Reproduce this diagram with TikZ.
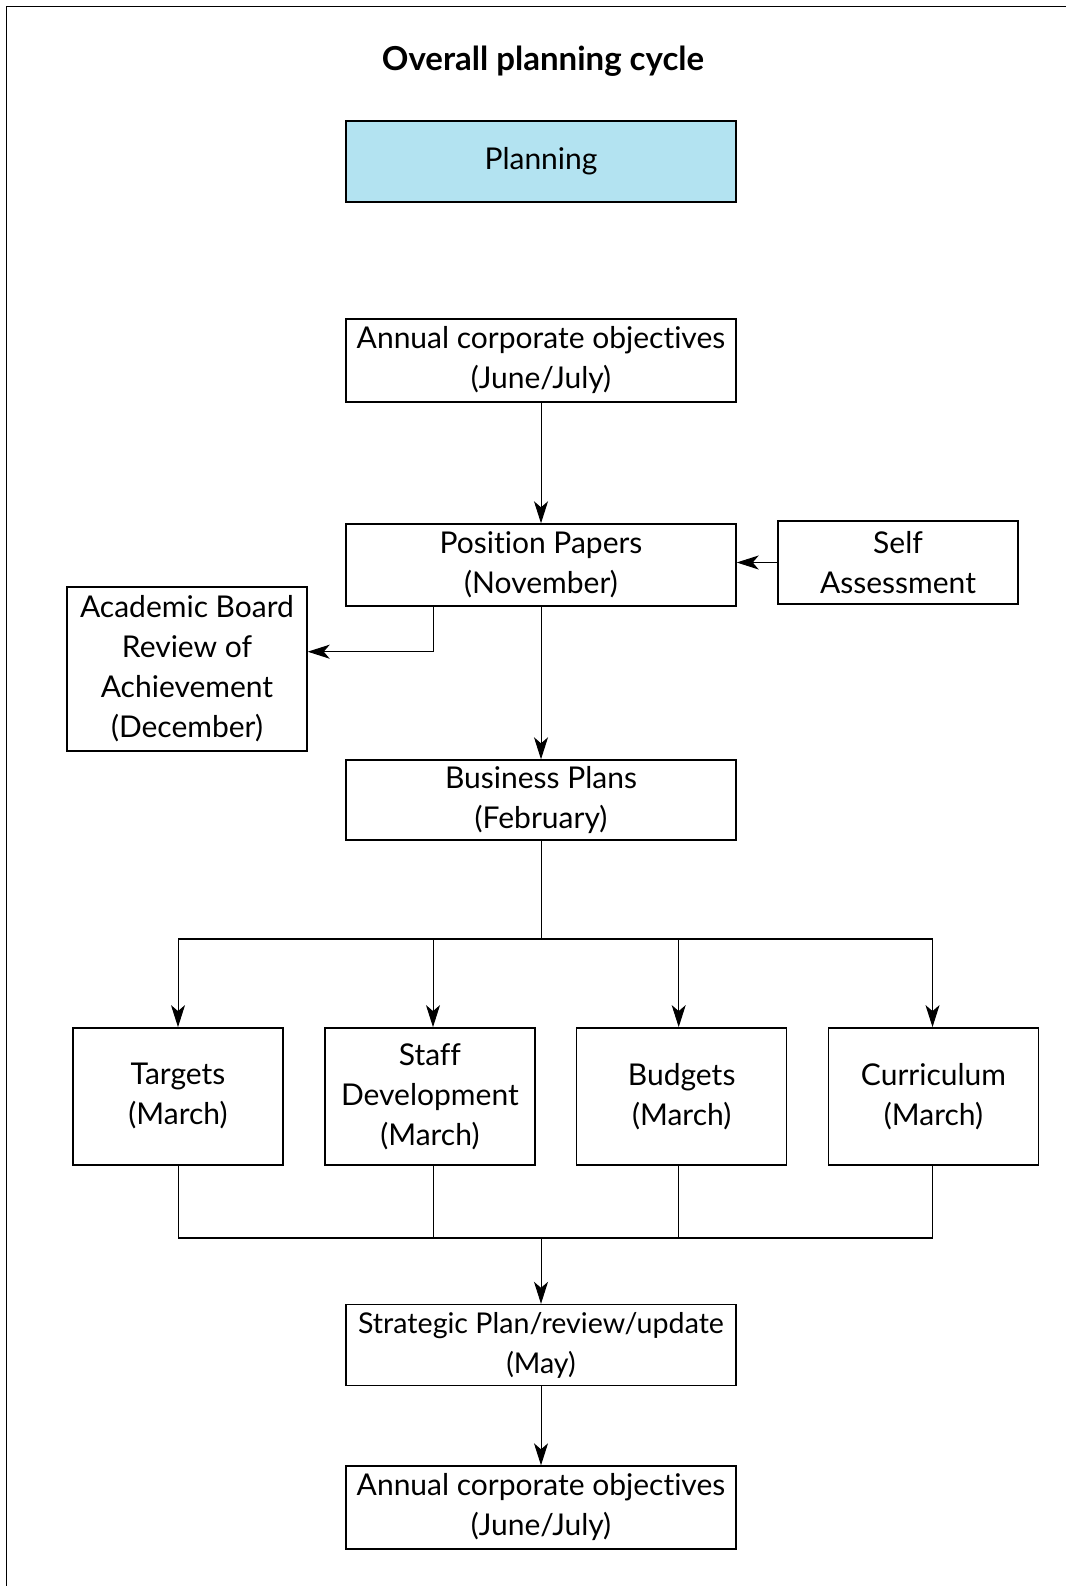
\documentclass[tikz,border=0pt]{standalone}
\usepackage{fontspec}
\setmainfont{Lato}[Ligatures=NoCommon]
\usetikzlibrary{arrows.meta}
\definecolor{planblue}{RGB}{179,227,241}
\begin{document}
\begin{tikzpicture}[x=1pt,y=-1pt,
  box/.style={draw=black,line width=1.4pt,fill=white,rectangle,inner sep=0pt,
              align=center,font=\fontsize{30}{40}\selectfont},
  wide/.style={box,minimum width=390pt},
  side/.style={box,minimum width=240pt},
  quad/.style={box,minimum width=210pt,minimum height=137pt},
  arr/.style={line width=1pt,-{Stealth[length=22pt,width=14pt,inset=6pt]}},
  link/.style={line width=1pt},
  bar/.style={line width=2pt}]
  % page area and frame (left and top sides)
  \useasboundingbox (0,0) rectangle (1066,1586);
  \draw[line width=1.8pt] (6.5,1586) -- (6.5,6.5) -- (1066,6.5);

  % title
  \node[font=\fontsize{33}{38}\selectfont\bfseries] (title) at (543,61) {Overall planning cycle};

  % main column
  \node[wide,fill=planblue,minimum height=81pt] (plan) at (541,161.5) {Planning};
  \node[wide,minimum height=83pt] (ann1) at (541,360.5) {Annual corporate objectives\\(June/July)};
  \node[wide,minimum height=82pt] (pos)  at (541,565) {Position Papers\\(November)};
  \node[side,minimum height=83pt] (self) at (898,562.5) {Self\\Assessment};
  \node[side,minimum height=164pt] (acad) at (187,669) {Academic Board\\Review of\\Achievement\\(December)};
  \node[wide,minimum height=80pt] (bus)  at (541,800) {Business Plans\\(February)};

  % the four parallel plans
  \node[quad] (tgt)  at (178,1096.3)   {Targets\\(March)};
  \node[quad] (sdev) at (429.9,1096.3) {Staff\\Development\\(March)};
  \node[quad] (bud)  at (681.7,1096.3) {Budgets\\(March)};
  \node[quad] (cur)  at (933.5,1096.3) {Curriculum\\(March)};

  \node[wide,minimum height=81pt,font=\fontsize{28.6}{40}\selectfont] (strat) at (541,1345) {Strategic Plan/review/update\\(May)};
  \node[wide,minimum height=83pt] (ann2)  at (541,1507.5) {Annual corporate objectives\\(June/July)};

  % helper coordinates for the branching lines
  \coordinate (kink)  at (433,651.7);
  \coordinate (split) at (541,938.6);
  \coordinate (merge) at (541,1238);
  \coordinate (xt) at (178,0);
  \coordinate (xs) at (433,0);
  \coordinate (xb) at (678.7,0);
  \coordinate (xc) at (932.5,0);

  % connectors
  \draw[arr] (ann1.south) -- (pos.north);
  \draw[arr] (self.west) -- (self.west -| pos.east);
  \draw[arr] (pos.south -| kink) -- (kink) -- (kink -| acad.east);
  \draw[arr] (pos.south) -- (bus.north);

  \draw[link] (bus.south) -- (split);
  \draw[bar] (split -| xt) -- (split -| xc);
  \draw[arr] (split -| xt) -- (tgt.north -| xt);
  \draw[arr] (split -| xs) -- (sdev.north -| xs);
  \draw[arr] (split -| xb) -- (bud.north -| xb);
  \draw[arr] (split -| xc) -- (cur.north -| xc);

  \draw[link] (tgt.south -| xt) -- (merge -| xt);
  \draw[link] (sdev.south -| xs) -- (merge -| xs);
  \draw[link] (bud.south -| xb) -- (merge -| xb);
  \draw[link] (cur.south -| xc) -- (merge -| xc);
  \draw[bar] (merge -| xt) -- (merge -| xc);
  \draw[arr] (merge) -- (strat.north);

  \draw[arr] (strat.south) -- (ann2.north);
\end{tikzpicture}
\end{document}
